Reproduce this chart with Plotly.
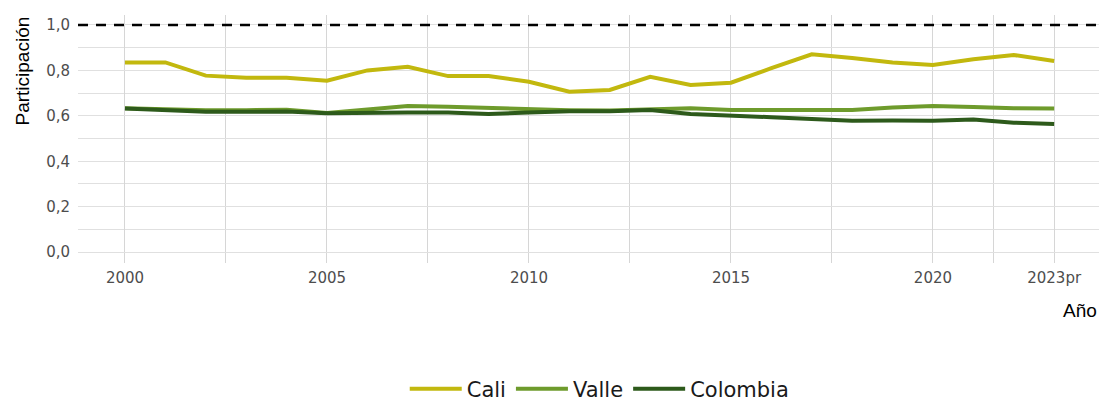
import plotly.graph_objects as go

years = list(range(2000, 2024))
cali = [0.835, 0.835, 0.777, 0.768, 0.768, 0.755, 0.800, 0.816, 0.775, 0.775, 0.750, 0.706,
        0.714, 0.772, 0.736, 0.746, 0.810, 0.871, 0.855, 0.835, 0.824, 0.849, 0.868, 0.841]
valle = [0.633, 0.628, 0.625, 0.625, 0.627, 0.612, 0.628, 0.643, 0.640, 0.635, 0.627, 0.625,
         0.623, 0.626, 0.633, 0.626, 0.627, 0.626, 0.626, 0.637, 0.643, 0.639, 0.633, 0.632]
colombia = [0.632, 0.625, 0.618, 0.618, 0.619, 0.611, 0.614, 0.615, 0.615, 0.608, 0.615, 0.620,
            0.620, 0.626, 0.608, 0.599, 0.594, 0.586, 0.578, 0.579, 0.578, 0.584, 0.570, 0.564]
tick_years = [2000, 2005, 2010, 2015, 2020, 2023]
tick_labels = ["2000", "2005", "2010", "2015", "2020", "2023pr"]
minor_years = [2002.5, 2007.5, 2012.5, 2017.5, 2021.5]
y_ticks = [0.0, 0.2, 0.4, 0.6, 0.8, 1.0]
y_tick_labels = ["0,0", "0,2", "0,4", "0,6", "0,8", "1,0"]
reference_level = 1.0

series = [("Cali", cali, "#C2B80E"), ("Valle", valle, "#6E9B2C"), ("Colombia", colombia, "#2D5A1B")]

fig = go.Figure()
for name, vals, col in series:
    fig.add_trace(go.Scatter(x=years, y=vals, mode="lines", name=name,
                             line=dict(color=col, width=4)))

fig.add_hline(y=reference_level, line=dict(color="black", width=2.5, dash="10px,8px"))

tickfont = dict(family="DejaVu Sans, sans-serif", size=15, color="#4D4D4D")
fig.update_xaxes(range=[1998.837, 2024.11], tickmode="array", tickvals=tick_years,
                 ticktext=tick_labels, tickfont=tickfont, showgrid=True,
                 gridcolor="#D6D6D6", gridwidth=1, zeroline=False, showline=False,
                 automargin=False, ticks="outside", ticklen=1, tickcolor="rgba(0,0,0,0)",
                 minor=dict(tickmode="array", tickvals=minor_years, showgrid=True,
                            gridcolor="#D6D6D6", gridwidth=1))
fig.update_yaxes(range=[-0.048, 1.044], tickmode="array", tickvals=y_ticks,
                 ticktext=y_tick_labels, tickfont=tickfont, showgrid=True,
                 gridcolor="#E0E0E0", gridwidth=1.2, zeroline=False, showline=False,
                 automargin=False, ticks="outside", ticklen=4, tickcolor="rgba(0,0,0,0)",
                 minor=dict(tickmode="array", tickvals=[0.1, 0.3, 0.5, 0.7, 0.9],
                            showgrid=True, gridcolor="#E0E0E0", gridwidth=1.2))

fig.add_annotation(text="Participación", xref="paper", yref="paper",
                   x=(22 - 78) / 1021, y=1.0, xanchor="center", yanchor="top", textangle=-90,
                   showarrow=False,
                   font=dict(family="Liberation Sans Narrow, Arial Narrow, sans-serif",
                             size=19, color="black"))
fig.add_annotation(text="Año", xref="paper", yref="paper",
                   x=1.0, y=-(310 - 263) / 248, xanchor="right",
                   yanchor="middle", showarrow=False,
                   font=dict(family="Liberation Sans Narrow, Arial Narrow, sans-serif",
                             size=19, color="black"))

fig.update_layout(
    width=1099, height=402,
    margin=dict(l=78, r=0, t=15, b=139, autoexpand=False),
    plot_bgcolor="white", paper_bgcolor="white",
    showlegend=True,
    legend=dict(orientation="h", x=0.511, xanchor="center", y=-(389 - 263) / 248,
                yanchor="middle",
                font=dict(family="DejaVu Sans, sans-serif", size=21, color="#1A1A1A"),
                itemwidth=52),
)

fig.write_html("out.html", config={"displayModeBar": False},
               post_script="document.body.style.margin='0';document.body.style.padding='0';"
                           "document.body.style.overflow='hidden';")
